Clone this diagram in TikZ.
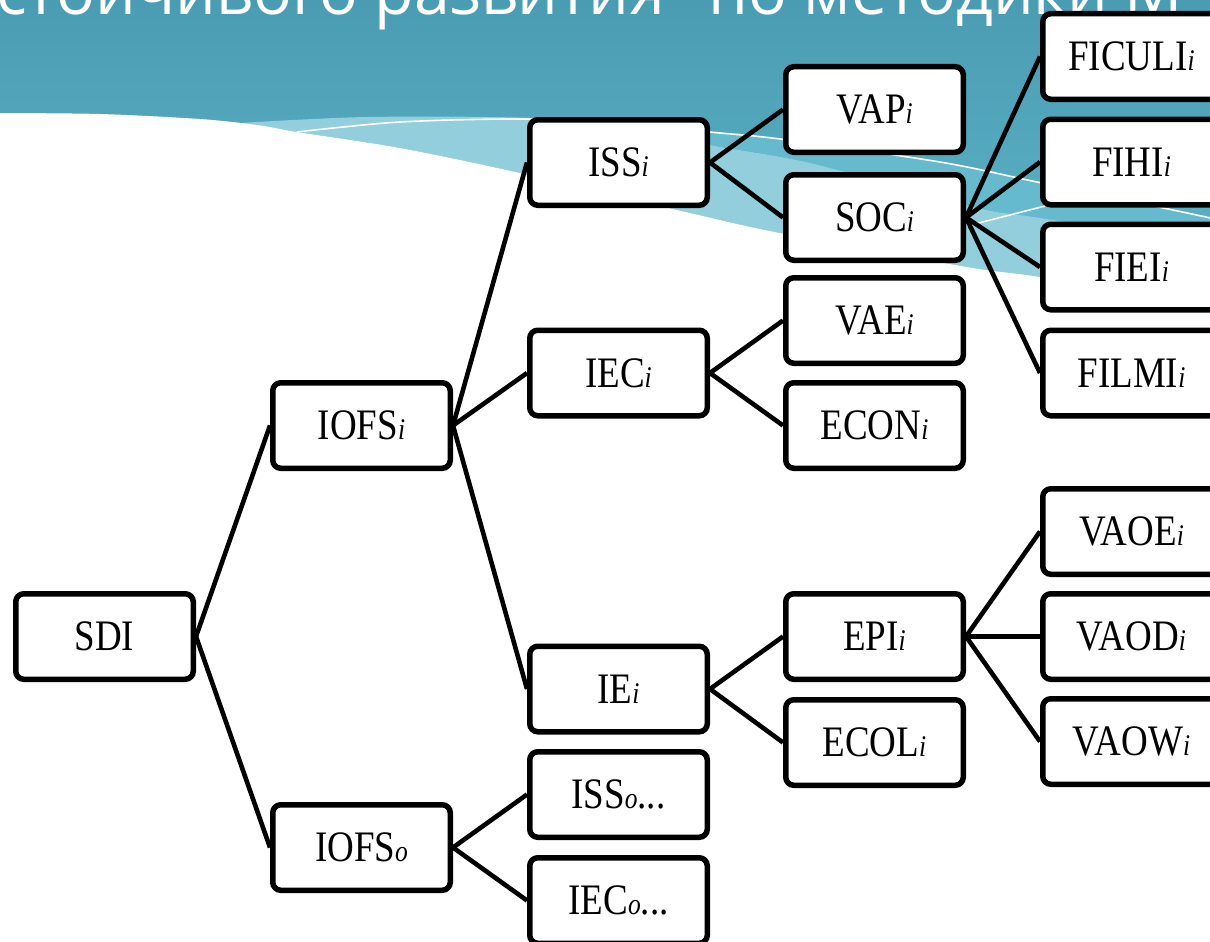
\documentclass[tikz,border=0pt]{standalone}
\usepackage{fontspec}
\newfontfamily\lab[FakeStretch=0.85]{Liberation Serif}
\newfontfamily\ttlfont{Open Sans}
\newcommand\ix[1]{{\fontsize{30}{30}\selectfont\itshape #1}}
\definecolor{tealtop}{HTML}{4A9CB2}
\definecolor{tealbot}{HTML}{5FB6CA}
\definecolor{tealmid}{HTML}{66BACD}
\definecolor{teallight}{HTML}{93CEDD}
\tikzset{
  box/.style={draw, line width=5.5pt, rounded corners=8pt, fill=white,
    minimum width=177.5pt, minimum height=85.5pt, inner sep=0pt,
    font=\lab\fontsize{43.5}{43.5}\selectfont, text height=28.5pt, text depth=0pt},
  link/.style={line width=4.6pt},
  wline/.style={white, line width=1.6pt}
}
\begin{document}
\begin{tikzpicture}[x=1pt,y=-1pt]
\useasboundingbox (0,0) rectangle (1210,942);
\begin{scope}
\clip (0,0) rectangle (1210,942);
% background header
\shade[top color=tealtop, bottom color=tealbot] (0,0) rectangle (1210,320);
% medium band
\fill[tealmid] plot[smooth] coordinates {(600,121) (650,124) (710,132) (780,139) (940,162) (1037,182) (1173,210) (1215,219)}
  -- (1215,245) -- plot[smooth] coordinates {(1040,218) (973,207) (810,163) (710,145) (600,126)} -- cycle;
% light band
\fill[teallight] plot[smooth] coordinates {(240,123) (367,117) (533,118) (640,128) (710,145) (810,163) (973,207) (1040,218) (1215,245)}
  -- (1215,305) -- plot[smooth] coordinates {(1040,277) (967,267) (780,233) (690,213) (520,173) (400,148) (297,132) (240,123)} -- cycle;
% white area
\fill[white] plot[smooth] coordinates {(-5,113) (100,114) (200,119) (257,125) (297,132) (400,148) (520,173) (690,213) (780,233) (967,267) (1040,277) (1215,305)}
  -- (1215,950) -- (-5,950) -- cycle;
% white lines
\draw[wline] plot[smooth] coordinates {(297,132) (400,122) (527,119) (650,124) (710,132) (780,139) (940,162) (1037,182) (1173,210) (1215,219)};
\draw[wline] (967,226) -- (1045,206);
% title
\node[anchor=base west, inner sep=0pt, text=white, font=\ttlfont\fontsize{64.5}{64.5}\selectfont] (title) at (-4,15) {стойчивого развития" по методики М};
\end{scope}

% nodes
\node[box] (SDI) at (104.5,636.5) {SDI};
\node[box] (IOFSi) at (361.5,425.5) {IOFS\ix{i}};
\node[box] (IOFSo) at (361.5,847.5) {IOFS\ix{o}};
\node[box] (ISSi) at (618.5,162.5) {ISS\ix{i}};
\node[box] (IECi) at (618.5,373) {IEC\ix{i}};
\node[box] (IEi) at (618.5,689) {IE\ix{i}};
\node[box] (ISSo) at (618.5,794.5) {ISS\ix{o}...};
\node[box] (IECo) at (618.5,900.5) {IEC\ix{o}...};
\node[box] (VAP) at (874.5,109.5) {VAP\ix{i}};
\node[box] (SOC) at (874.5,217.5) {SOC\ix{i}};
\node[box] (VAE) at (874.5,320.5) {VAE\ix{i}};
\node[box] (ECON) at (874.5,425.5) {ECON\ix{i}};
\node[box] (EPI) at (874.5,636.5) {EPI\ix{i}};
\node[box] (ECOL) at (874.5,742.5) {ECOL\ix{i}};
\node[box] (FICULI) at (1131.5,56.5) {FICULI\ix{i}};
\node[box] (FIHI) at (1131.5,162) {FIHI\ix{i}};
\node[box] (FIEI) at (1131.5,267) {FIEI\ix{i}};
\node[box] (FILMI) at (1131.5,373) {FILMI\ix{i}};
\node[box] (VAOE) at (1131.5,531.5) {VAOE\ix{i}};
\node[box] (VAOD) at (1131.5,636.5) {VAOD\ix{i}};
\node[box] (VAOW) at (1131.5,741.5) {VAOW\ix{i}};

% connectors
\foreach \a/\b in {SDI/IOFSi, SDI/IOFSo, IOFSi/ISSi, IOFSi/IECi, IOFSi/IEi,
  IOFSo/ISSo, IOFSo/IECo, ISSi/VAP, ISSi/SOC, SOC/FICULI, SOC/FIHI, SOC/FIEI, SOC/FILMI,
  IECi/VAE, IECi/ECON, IEi/EPI, IEi/ECOL, EPI/VAOE, EPI/VAOD, EPI/VAOW}
  \draw[link] (\a.east) -- (\b.west);
\end{tikzpicture}
\end{document}
